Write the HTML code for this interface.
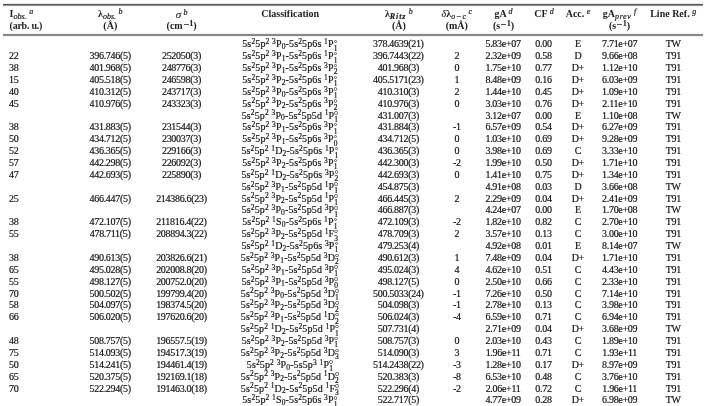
<!DOCTYPE html>
<html><head><meta charset="utf-8"><style>
html,body{margin:0;padding:0;background:#fff;}
body{width:708px;height:406px;overflow:hidden;position:relative;will-change:transform;font-family:"Liberation Serif",serif;color:#111;font-size:10px;-webkit-text-stroke:0.18px #111;}
.r{position:absolute;left:0;width:708px;height:12px;}
.c{position:absolute;top:0;white-space:nowrap;text-align:center;width:160px;line-height:12px;}
.c0{text-align:left;width:auto;}
sup{font-size:75%;vertical-align:0;position:relative;top:-3.2px;line-height:0;}
sub{font-size:75%;vertical-align:0;position:relative;top:1.8px;line-height:0;}
.ss{display:inline-block;position:relative;width:3.8px;height:0;font-size:75%;}
.ss .o{position:absolute;left:0.2px;top:-7.4px;width:1.5px;height:1.5px;border:0.5px solid #555;border-radius:50%;}
.ss .l{position:absolute;left:0;top:1.4px;line-height:0;}
.rule{position:absolute;left:3px;width:700px;}
.h{-webkit-text-stroke:0;color:#222;position:absolute;white-space:nowrap;text-align:center;width:160px;font-weight:bold;line-height:12px;}
.h sup,.h sub{font-weight:normal;font-size:80%;-webkit-text-stroke:0.2px #222;}
.nw{font-weight:normal;-webkit-text-stroke:0.1px #222;}
.h sup.m1{font-weight:bold;top:-2.8px;font-size:74%;}
.mb{display:inline-block;width:5.4px;height:0.8px;background:#555;vertical-align:0;position:relative;top:-1.6px;margin:0 0.6px 0 0.9px;}
</style></head><body>

<div class="rule" style="top:3px;height:1px;background:#e8e8e8"></div>
<div class="rule" style="top:4px;height:1px;background:#585858"></div>
<div class="rule" style="top:5px;height:1px;background:#939393"></div>
<div class="rule" style="top:6px;height:1px;background:#f6f6f6"></div>
<div class="rule" style="top:33px;height:1px;background:#f2f2f2"></div>
<div class="rule" style="top:34px;height:1px;background:#878787"></div>
<div class="rule" style="top:35px;height:1px;background:#878787"></div>
<div class="rule" style="top:36px;height:1px;background:#f2f2f2"></div>
<div class="h" style="left:9.6px;top:8px;text-align:left;width:auto">I<sub><i>obs.</i></sub> <sup><i>a</i></sup></div>
<div class="h" style="left:9.6px;top:19.8px;text-align:left;width:auto"><span style="letter-spacing:-0.25px">(arb. u.)</span></div>
<div class="h" style="left:30.30px;top:8px">&lambda;<sub><i>obs.</i></sub> <sup><i>b</i></sup></div>
<div class="h" style="left:30.30px;top:19.8px">(&Aring;)</div>
<div class="h" style="left:101.60px;top:8px"><i class="nw" style="font-size:11px">&sigma;</i> <sup><i>b</i></sup></div>
<div class="h" style="left:101.60px;top:19.8px">(cm<sup class="m1"><span class="mb"></span>1</sup>)</div>
<div class="h" style="left:210.20px;top:8px">Classification</div>
<div class="h" style="left:318.90px;top:8px">&lambda;<sub style="font-weight:bold;letter-spacing:0.9px"><i>Ritz</i></sub> <sup><i>b</i></sup></div>
<div class="h" style="left:318.90px;top:19.8px">(&Aring;)</div>
<div class="h" style="left:376.80px;top:8px"><i class="nw">&delta;</i>&lambda;<sub><i>o</i><span style="margin:0 1.4px">&minus;</span><i>c</i></sub> <sup><i>c</i></sup></div>
<div class="h" style="left:376.80px;top:19.8px">(m&Aring;)</div>
<div class="h" style="left:423.50px;top:8px">gA <sup><i>d</i></sup></div>
<div class="h" style="left:423.50px;top:19.8px">(s<sup class="m1"><span class="mb"></span>1</sup>)</div>
<div class="h" style="left:464.00px;top:8px">CF <sup><i>d</i></sup></div>
<div class="h" style="left:498.00px;top:8px">Acc. <sup><i>e</i></sup></div>
<div class="h" style="left:539.50px;top:8px">gA<sub style="letter-spacing:0.6px"><i>prev</i></sub> <sup><i>f</i></sup></div>
<div class="h" style="left:539.50px;top:19.8px">(s<sup class="m1"><span class="mb"></span>1</sup>)</div>
<div class="h" style="left:593.20px;top:8px">Line Ref. <sup><i>g</i></sup></div>
<div class="r" style="top:38.30px"><div class="c c0" style="left:9.1px;letter-spacing:-0.3px"></div><div class="c" style="left:30.15px;letter-spacing:-0.3px"></div><div class="c" style="left:101.45px;letter-spacing:-0.3px"></div><div class="c" style="left:209.87px;letter-spacing:0.13px">5s<sup>2</sup>5p<sup>2</sup> <sup>3</sup>P<sub>0</sub>-5s<sup>2</sup>5p6s <sup>1</sup>P<span class="ss"><span class="o"></span><span class="l">1</span></span></div><div class="c" style="left:318.35px;letter-spacing:-0.3px">378.4639(21)</div><div class="c" style="left:376.85px;letter-spacing:-0.3px"></div><div class="c" style="left:423.05px;letter-spacing:-0.3px">5.83e+07</div><div class="c" style="left:463.45px;letter-spacing:-0.3px">0.00</div><div class="c" style="left:497.85px;letter-spacing:-0.3px">E</div><div class="c" style="left:539.65px;letter-spacing:-0.3px">7.71e+07</div><div class="c" style="left:593.25px;letter-spacing:-0.3px">TW</div></div>
<div class="r" style="top:50.17px"><div class="c c0" style="left:9.1px;letter-spacing:-0.3px">22</div><div class="c" style="left:30.15px;letter-spacing:-0.3px">396.746(5)</div><div class="c" style="left:101.45px;letter-spacing:-0.3px">252050(3)</div><div class="c" style="left:209.87px;letter-spacing:0.13px">5s<sup>2</sup>5p<sup>2</sup> <sup>3</sup>P<sub>1</sub>-5s<sup>2</sup>5p6s <sup>1</sup>P<span class="ss"><span class="o"></span><span class="l">1</span></span></div><div class="c" style="left:318.35px;letter-spacing:-0.3px">396.7443(22)</div><div class="c" style="left:376.85px;letter-spacing:-0.3px">2</div><div class="c" style="left:423.05px;letter-spacing:-0.3px">2.32e+09</div><div class="c" style="left:463.45px;letter-spacing:-0.3px">0.58</div><div class="c" style="left:497.85px;letter-spacing:-0.3px">D</div><div class="c" style="left:539.65px;letter-spacing:-0.3px">9.66e+08</div><div class="c" style="left:593.25px;letter-spacing:-0.3px">T91</div></div>
<div class="r" style="top:62.04px"><div class="c c0" style="left:9.1px;letter-spacing:-0.3px">38</div><div class="c" style="left:30.15px;letter-spacing:-0.3px">401.968(5)</div><div class="c" style="left:101.45px;letter-spacing:-0.3px">248776(3)</div><div class="c" style="left:209.87px;letter-spacing:0.13px">5s<sup>2</sup>5p<sup>2</sup> <sup>3</sup>P<sub>1</sub>-5s<sup>2</sup>5p6s <sup>3</sup>P<span class="ss"><span class="o"></span><span class="l">2</span></span></div><div class="c" style="left:318.35px;letter-spacing:-0.3px">401.968(3)</div><div class="c" style="left:376.85px;letter-spacing:-0.3px">0</div><div class="c" style="left:423.05px;letter-spacing:-0.3px">1.75e+10</div><div class="c" style="left:463.45px;letter-spacing:-0.3px">0.77</div><div class="c" style="left:497.85px;letter-spacing:-0.3px">D+</div><div class="c" style="left:539.65px;letter-spacing:-0.3px">1.12e+10</div><div class="c" style="left:593.25px;letter-spacing:-0.3px">T91</div></div>
<div class="r" style="top:73.91px"><div class="c c0" style="left:9.1px;letter-spacing:-0.3px">15</div><div class="c" style="left:30.15px;letter-spacing:-0.3px">405.518(5)</div><div class="c" style="left:101.45px;letter-spacing:-0.3px">246598(3)</div><div class="c" style="left:209.87px;letter-spacing:0.13px">5s<sup>2</sup>5p<sup>2</sup> <sup>3</sup>P<sub>2</sub>-5s<sup>2</sup>5p6s <sup>1</sup>P<span class="ss"><span class="o"></span><span class="l">1</span></span></div><div class="c" style="left:318.35px;letter-spacing:-0.3px">405.5171(23)</div><div class="c" style="left:376.85px;letter-spacing:-0.3px">1</div><div class="c" style="left:423.05px;letter-spacing:-0.3px">8.48e+09</div><div class="c" style="left:463.45px;letter-spacing:-0.3px">0.16</div><div class="c" style="left:497.85px;letter-spacing:-0.3px">D+</div><div class="c" style="left:539.65px;letter-spacing:-0.3px">6.03e+09</div><div class="c" style="left:593.25px;letter-spacing:-0.3px">T91</div></div>
<div class="r" style="top:85.78px"><div class="c c0" style="left:9.1px;letter-spacing:-0.3px">40</div><div class="c" style="left:30.15px;letter-spacing:-0.3px">410.312(5)</div><div class="c" style="left:101.45px;letter-spacing:-0.3px">243717(3)</div><div class="c" style="left:209.87px;letter-spacing:0.13px">5s<sup>2</sup>5p<sup>2</sup> <sup>3</sup>P<sub>0</sub>-5s<sup>2</sup>5p6s <sup>3</sup>P<span class="ss"><span class="o"></span><span class="l">1</span></span></div><div class="c" style="left:318.35px;letter-spacing:-0.3px">410.310(3)</div><div class="c" style="left:376.85px;letter-spacing:-0.3px">2</div><div class="c" style="left:423.05px;letter-spacing:-0.3px">1.44e+10</div><div class="c" style="left:463.45px;letter-spacing:-0.3px">0.45</div><div class="c" style="left:497.85px;letter-spacing:-0.3px">D+</div><div class="c" style="left:539.65px;letter-spacing:-0.3px">1.09e+10</div><div class="c" style="left:593.25px;letter-spacing:-0.3px">T91</div></div>
<div class="r" style="top:97.65px"><div class="c c0" style="left:9.1px;letter-spacing:-0.3px">45</div><div class="c" style="left:30.15px;letter-spacing:-0.3px">410.976(5)</div><div class="c" style="left:101.45px;letter-spacing:-0.3px">243323(3)</div><div class="c" style="left:209.87px;letter-spacing:0.13px">5s<sup>2</sup>5p<sup>2</sup> <sup>3</sup>P<sub>2</sub>-5s<sup>2</sup>5p6s <sup>3</sup>P<span class="ss"><span class="o"></span><span class="l">2</span></span></div><div class="c" style="left:318.35px;letter-spacing:-0.3px">410.976(3)</div><div class="c" style="left:376.85px;letter-spacing:-0.3px">0</div><div class="c" style="left:423.05px;letter-spacing:-0.3px">3.03e+10</div><div class="c" style="left:463.45px;letter-spacing:-0.3px">0.76</div><div class="c" style="left:497.85px;letter-spacing:-0.3px">D+</div><div class="c" style="left:539.65px;letter-spacing:-0.3px">2.11e+10</div><div class="c" style="left:593.25px;letter-spacing:-0.3px">T91</div></div>
<div class="r" style="top:109.52px"><div class="c c0" style="left:9.1px;letter-spacing:-0.3px"></div><div class="c" style="left:30.15px;letter-spacing:-0.3px"></div><div class="c" style="left:101.45px;letter-spacing:-0.3px"></div><div class="c" style="left:209.87px;letter-spacing:0.13px">5s<sup>2</sup>5p<sup>2</sup> <sup>3</sup>P<sub>0</sub>-5s<sup>2</sup>5p5d <sup>1</sup>P<span class="ss"><span class="o"></span><span class="l">1</span></span></div><div class="c" style="left:318.35px;letter-spacing:-0.3px">431.007(3)</div><div class="c" style="left:376.85px;letter-spacing:-0.3px"></div><div class="c" style="left:423.05px;letter-spacing:-0.3px">3.12e+07</div><div class="c" style="left:463.45px;letter-spacing:-0.3px">0.00</div><div class="c" style="left:497.85px;letter-spacing:-0.3px">E</div><div class="c" style="left:539.65px;letter-spacing:-0.3px">1.10e+08</div><div class="c" style="left:593.25px;letter-spacing:-0.3px">TW</div></div>
<div class="r" style="top:121.39px"><div class="c c0" style="left:9.1px;letter-spacing:-0.3px">38</div><div class="c" style="left:30.15px;letter-spacing:-0.3px">431.883(5)</div><div class="c" style="left:101.45px;letter-spacing:-0.3px">231544(3)</div><div class="c" style="left:209.87px;letter-spacing:0.13px">5s<sup>2</sup>5p<sup>2</sup> <sup>3</sup>P<sub>1</sub>-5s<sup>2</sup>5p6s <sup>3</sup>P<span class="ss"><span class="o"></span><span class="l">1</span></span></div><div class="c" style="left:318.35px;letter-spacing:-0.3px">431.884(3)</div><div class="c" style="left:376.85px;letter-spacing:-0.3px">-1</div><div class="c" style="left:423.05px;letter-spacing:-0.3px">6.57e+09</div><div class="c" style="left:463.45px;letter-spacing:-0.3px">0.54</div><div class="c" style="left:497.85px;letter-spacing:-0.3px">D+</div><div class="c" style="left:539.65px;letter-spacing:-0.3px">6.27e+09</div><div class="c" style="left:593.25px;letter-spacing:-0.3px">T91</div></div>
<div class="r" style="top:133.26px"><div class="c c0" style="left:9.1px;letter-spacing:-0.3px">50</div><div class="c" style="left:30.15px;letter-spacing:-0.3px">434.712(5)</div><div class="c" style="left:101.45px;letter-spacing:-0.3px">230037(3)</div><div class="c" style="left:209.87px;letter-spacing:0.13px">5s<sup>2</sup>5p<sup>2</sup> <sup>3</sup>P<sub>1</sub>-5s<sup>2</sup>5p6s <sup>3</sup>P<span class="ss"><span class="o"></span><span class="l">0</span></span></div><div class="c" style="left:318.35px;letter-spacing:-0.3px">434.712(5)</div><div class="c" style="left:376.85px;letter-spacing:-0.3px">0</div><div class="c" style="left:423.05px;letter-spacing:-0.3px">1.03e+10</div><div class="c" style="left:463.45px;letter-spacing:-0.3px">0.69</div><div class="c" style="left:497.85px;letter-spacing:-0.3px">D+</div><div class="c" style="left:539.65px;letter-spacing:-0.3px">9.28e+09</div><div class="c" style="left:593.25px;letter-spacing:-0.3px">T91</div></div>
<div class="r" style="top:145.13px"><div class="c c0" style="left:9.1px;letter-spacing:-0.3px">52</div><div class="c" style="left:30.15px;letter-spacing:-0.3px">436.365(5)</div><div class="c" style="left:101.45px;letter-spacing:-0.3px">229166(3)</div><div class="c" style="left:209.87px;letter-spacing:0.13px">5s<sup>2</sup>5p<sup>2</sup> <sup>1</sup>D<sub>2</sub>-5s<sup>2</sup>5p6s <sup>1</sup>P<span class="ss"><span class="o"></span><span class="l">1</span></span></div><div class="c" style="left:318.35px;letter-spacing:-0.3px">436.365(3)</div><div class="c" style="left:376.85px;letter-spacing:-0.3px">0</div><div class="c" style="left:423.05px;letter-spacing:-0.3px">3.98e+10</div><div class="c" style="left:463.45px;letter-spacing:-0.3px">0.69</div><div class="c" style="left:497.85px;letter-spacing:-0.3px">C</div><div class="c" style="left:539.65px;letter-spacing:-0.3px">3.33e+10</div><div class="c" style="left:593.25px;letter-spacing:-0.3px">T91</div></div>
<div class="r" style="top:157.00px"><div class="c c0" style="left:9.1px;letter-spacing:-0.3px">57</div><div class="c" style="left:30.15px;letter-spacing:-0.3px">442.298(5)</div><div class="c" style="left:101.45px;letter-spacing:-0.3px">226092(3)</div><div class="c" style="left:209.87px;letter-spacing:0.13px">5s<sup>2</sup>5p<sup>2</sup> <sup>3</sup>P<sub>2</sub>-5s<sup>2</sup>5p6s <sup>3</sup>P<span class="ss"><span class="o"></span><span class="l">1</span></span></div><div class="c" style="left:318.35px;letter-spacing:-0.3px">442.300(3)</div><div class="c" style="left:376.85px;letter-spacing:-0.3px">-2</div><div class="c" style="left:423.05px;letter-spacing:-0.3px">1.99e+10</div><div class="c" style="left:463.45px;letter-spacing:-0.3px">0.50</div><div class="c" style="left:497.85px;letter-spacing:-0.3px">D+</div><div class="c" style="left:539.65px;letter-spacing:-0.3px">1.71e+10</div><div class="c" style="left:593.25px;letter-spacing:-0.3px">T91</div></div>
<div class="r" style="top:168.87px"><div class="c c0" style="left:9.1px;letter-spacing:-0.3px">47</div><div class="c" style="left:30.15px;letter-spacing:-0.3px">442.693(5)</div><div class="c" style="left:101.45px;letter-spacing:-0.3px">225890(3)</div><div class="c" style="left:209.87px;letter-spacing:0.13px">5s<sup>2</sup>5p<sup>2</sup> <sup>1</sup>D<sub>2</sub>-5s<sup>2</sup>5p6s <sup>3</sup>P<span class="ss"><span class="o"></span><span class="l">2</span></span></div><div class="c" style="left:318.35px;letter-spacing:-0.3px">442.693(3)</div><div class="c" style="left:376.85px;letter-spacing:-0.3px">0</div><div class="c" style="left:423.05px;letter-spacing:-0.3px">1.41e+10</div><div class="c" style="left:463.45px;letter-spacing:-0.3px">0.75</div><div class="c" style="left:497.85px;letter-spacing:-0.3px">D+</div><div class="c" style="left:539.65px;letter-spacing:-0.3px">1.34e+10</div><div class="c" style="left:593.25px;letter-spacing:-0.3px">T91</div></div>
<div class="r" style="top:180.74px"><div class="c c0" style="left:9.1px;letter-spacing:-0.3px"></div><div class="c" style="left:30.15px;letter-spacing:-0.3px"></div><div class="c" style="left:101.45px;letter-spacing:-0.3px"></div><div class="c" style="left:209.87px;letter-spacing:0.13px">5s<sup>2</sup>5p<sup>2</sup> <sup>3</sup>P<sub>1</sub>-5s<sup>2</sup>5p5d <sup>1</sup>P<span class="ss"><span class="o"></span><span class="l">1</span></span></div><div class="c" style="left:318.35px;letter-spacing:-0.3px">454.875(3)</div><div class="c" style="left:376.85px;letter-spacing:-0.3px"></div><div class="c" style="left:423.05px;letter-spacing:-0.3px">4.91e+08</div><div class="c" style="left:463.45px;letter-spacing:-0.3px">0.03</div><div class="c" style="left:497.85px;letter-spacing:-0.3px">D</div><div class="c" style="left:539.65px;letter-spacing:-0.3px">3.66e+08</div><div class="c" style="left:593.25px;letter-spacing:-0.3px">TW</div></div>
<div class="r" style="top:192.61px"><div class="c c0" style="left:9.1px;letter-spacing:-0.3px">25</div><div class="c" style="left:30.15px;letter-spacing:-0.3px">466.447(5)</div><div class="c" style="left:101.45px;letter-spacing:-0.3px">214386.6(23)</div><div class="c" style="left:209.87px;letter-spacing:0.13px">5s<sup>2</sup>5p<sup>2</sup> <sup>3</sup>P<sub>2</sub>-5s<sup>2</sup>5p5d <sup>1</sup>P<span class="ss"><span class="o"></span><span class="l">1</span></span></div><div class="c" style="left:318.35px;letter-spacing:-0.3px">466.445(3)</div><div class="c" style="left:376.85px;letter-spacing:-0.3px">2</div><div class="c" style="left:423.05px;letter-spacing:-0.3px">2.29e+09</div><div class="c" style="left:463.45px;letter-spacing:-0.3px">0.04</div><div class="c" style="left:497.85px;letter-spacing:-0.3px">D+</div><div class="c" style="left:539.65px;letter-spacing:-0.3px">2.41e+09</div><div class="c" style="left:593.25px;letter-spacing:-0.3px">T91</div></div>
<div class="r" style="top:204.48px"><div class="c c0" style="left:9.1px;letter-spacing:-0.3px"></div><div class="c" style="left:30.15px;letter-spacing:-0.3px"></div><div class="c" style="left:101.45px;letter-spacing:-0.3px"></div><div class="c" style="left:209.87px;letter-spacing:0.13px">5s<sup>2</sup>5p<sup>2</sup> <sup>3</sup>P<sub>0</sub>-5s<sup>2</sup>5p5d <sup>3</sup>P<span class="ss"><span class="o"></span><span class="l">1</span></span></div><div class="c" style="left:318.35px;letter-spacing:-0.3px">466.887(3)</div><div class="c" style="left:376.85px;letter-spacing:-0.3px"></div><div class="c" style="left:423.05px;letter-spacing:-0.3px">4.24e+07</div><div class="c" style="left:463.45px;letter-spacing:-0.3px">0.00</div><div class="c" style="left:497.85px;letter-spacing:-0.3px">E</div><div class="c" style="left:539.65px;letter-spacing:-0.3px">1.70e+08</div><div class="c" style="left:593.25px;letter-spacing:-0.3px">TW</div></div>
<div class="r" style="top:216.35px"><div class="c c0" style="left:9.1px;letter-spacing:-0.3px">38</div><div class="c" style="left:30.15px;letter-spacing:-0.3px">472.107(5)</div><div class="c" style="left:101.45px;letter-spacing:-0.3px">211816.4(22)</div><div class="c" style="left:209.87px;letter-spacing:0.13px">5s<sup>2</sup>5p<sup>2</sup> <sup>1</sup>S<sub>0</sub>-5s<sup>2</sup>5p6s <sup>1</sup>P<span class="ss"><span class="o"></span><span class="l">1</span></span></div><div class="c" style="left:318.35px;letter-spacing:-0.3px">472.109(3)</div><div class="c" style="left:376.85px;letter-spacing:-0.3px">-2</div><div class="c" style="left:423.05px;letter-spacing:-0.3px">1.82e+10</div><div class="c" style="left:463.45px;letter-spacing:-0.3px">0.82</div><div class="c" style="left:497.85px;letter-spacing:-0.3px">C</div><div class="c" style="left:539.65px;letter-spacing:-0.3px">2.70e+10</div><div class="c" style="left:593.25px;letter-spacing:-0.3px">T91</div></div>
<div class="r" style="top:228.22px"><div class="c c0" style="left:9.1px;letter-spacing:-0.3px">55</div><div class="c" style="left:30.15px;letter-spacing:-0.3px">478.711(5)</div><div class="c" style="left:101.45px;letter-spacing:-0.3px">208894.3(22)</div><div class="c" style="left:209.87px;letter-spacing:0.13px">5s<sup>2</sup>5p<sup>2</sup> <sup>3</sup>P<sub>2</sub>-5s<sup>2</sup>5p5d <sup>1</sup>F<span class="ss"><span class="o"></span><span class="l">3</span></span></div><div class="c" style="left:318.35px;letter-spacing:-0.3px">478.709(3)</div><div class="c" style="left:376.85px;letter-spacing:-0.3px">2</div><div class="c" style="left:423.05px;letter-spacing:-0.3px">3.57e+10</div><div class="c" style="left:463.45px;letter-spacing:-0.3px">0.13</div><div class="c" style="left:497.85px;letter-spacing:-0.3px">C</div><div class="c" style="left:539.65px;letter-spacing:-0.3px">3.00e+10</div><div class="c" style="left:593.25px;letter-spacing:-0.3px">T91</div></div>
<div class="r" style="top:240.09px"><div class="c c0" style="left:9.1px;letter-spacing:-0.3px"></div><div class="c" style="left:30.15px;letter-spacing:-0.3px"></div><div class="c" style="left:101.45px;letter-spacing:-0.3px"></div><div class="c" style="left:209.87px;letter-spacing:0.13px">5s<sup>2</sup>5p<sup>2</sup> <sup>1</sup>D<sub>2</sub>-5s<sup>2</sup>5p6s <sup>3</sup>P<span class="ss"><span class="o"></span><span class="l">1</span></span></div><div class="c" style="left:318.35px;letter-spacing:-0.3px">479.253(4)</div><div class="c" style="left:376.85px;letter-spacing:-0.3px"></div><div class="c" style="left:423.05px;letter-spacing:-0.3px">4.92e+08</div><div class="c" style="left:463.45px;letter-spacing:-0.3px">0.01</div><div class="c" style="left:497.85px;letter-spacing:-0.3px">E</div><div class="c" style="left:539.65px;letter-spacing:-0.3px">8.14e+07</div><div class="c" style="left:593.25px;letter-spacing:-0.3px">TW</div></div>
<div class="r" style="top:251.96px"><div class="c c0" style="left:9.1px;letter-spacing:-0.3px">38</div><div class="c" style="left:30.15px;letter-spacing:-0.3px">490.613(5)</div><div class="c" style="left:101.45px;letter-spacing:-0.3px">203826.6(21)</div><div class="c" style="left:209.87px;letter-spacing:0.13px">5s<sup>2</sup>5p<sup>2</sup> <sup>3</sup>P<sub>1</sub>-5s<sup>2</sup>5p5d <sup>3</sup>D<span class="ss"><span class="o"></span><span class="l">2</span></span></div><div class="c" style="left:318.35px;letter-spacing:-0.3px">490.612(3)</div><div class="c" style="left:376.85px;letter-spacing:-0.3px">1</div><div class="c" style="left:423.05px;letter-spacing:-0.3px">7.48e+09</div><div class="c" style="left:463.45px;letter-spacing:-0.3px">0.04</div><div class="c" style="left:497.85px;letter-spacing:-0.3px">D+</div><div class="c" style="left:539.65px;letter-spacing:-0.3px">1.71e+10</div><div class="c" style="left:593.25px;letter-spacing:-0.3px">T91</div></div>
<div class="r" style="top:263.83px"><div class="c c0" style="left:9.1px;letter-spacing:-0.3px">65</div><div class="c" style="left:30.15px;letter-spacing:-0.3px">495.028(5)</div><div class="c" style="left:101.45px;letter-spacing:-0.3px">202008.8(20)</div><div class="c" style="left:209.87px;letter-spacing:0.13px">5s<sup>2</sup>5p<sup>2</sup> <sup>3</sup>P<sub>1</sub>-5s<sup>2</sup>5p5d <sup>3</sup>P<span class="ss"><span class="o"></span><span class="l">1</span></span></div><div class="c" style="left:318.35px;letter-spacing:-0.3px">495.024(3)</div><div class="c" style="left:376.85px;letter-spacing:-0.3px">4</div><div class="c" style="left:423.05px;letter-spacing:-0.3px">4.62e+10</div><div class="c" style="left:463.45px;letter-spacing:-0.3px">0.51</div><div class="c" style="left:497.85px;letter-spacing:-0.3px">C</div><div class="c" style="left:539.65px;letter-spacing:-0.3px">4.43e+10</div><div class="c" style="left:593.25px;letter-spacing:-0.3px">T91</div></div>
<div class="r" style="top:275.70px"><div class="c c0" style="left:9.1px;letter-spacing:-0.3px">55</div><div class="c" style="left:30.15px;letter-spacing:-0.3px">498.127(5)</div><div class="c" style="left:101.45px;letter-spacing:-0.3px">200752.0(20)</div><div class="c" style="left:209.87px;letter-spacing:0.13px">5s<sup>2</sup>5p<sup>2</sup> <sup>3</sup>P<sub>1</sub>-5s<sup>2</sup>5p5d <sup>3</sup>P<span class="ss"><span class="o"></span><span class="l">0</span></span></div><div class="c" style="left:318.35px;letter-spacing:-0.3px">498.127(5)</div><div class="c" style="left:376.85px;letter-spacing:-0.3px">0</div><div class="c" style="left:423.05px;letter-spacing:-0.3px">2.50e+10</div><div class="c" style="left:463.45px;letter-spacing:-0.3px">0.66</div><div class="c" style="left:497.85px;letter-spacing:-0.3px">C</div><div class="c" style="left:539.65px;letter-spacing:-0.3px">2.33e+10</div><div class="c" style="left:593.25px;letter-spacing:-0.3px">T91</div></div>
<div class="r" style="top:287.57px"><div class="c c0" style="left:9.1px;letter-spacing:-0.3px">70</div><div class="c" style="left:30.15px;letter-spacing:-0.3px">500.502(5)</div><div class="c" style="left:101.45px;letter-spacing:-0.3px">199799.4(20)</div><div class="c" style="left:209.87px;letter-spacing:0.13px">5s<sup>2</sup>5p<sup>2</sup> <sup>3</sup>P<sub>0</sub>-5s<sup>2</sup>5p5d <sup>3</sup>D<span class="ss"><span class="o"></span><span class="l">1</span></span></div><div class="c" style="left:318.35px;letter-spacing:-0.3px">500.5033(24)</div><div class="c" style="left:376.85px;letter-spacing:-0.3px">-1</div><div class="c" style="left:423.05px;letter-spacing:-0.3px">7.26e+10</div><div class="c" style="left:463.45px;letter-spacing:-0.3px">0.50</div><div class="c" style="left:497.85px;letter-spacing:-0.3px">C</div><div class="c" style="left:539.65px;letter-spacing:-0.3px">7.14e+10</div><div class="c" style="left:593.25px;letter-spacing:-0.3px">T91</div></div>
<div class="r" style="top:299.44px"><div class="c c0" style="left:9.1px;letter-spacing:-0.3px">58</div><div class="c" style="left:30.15px;letter-spacing:-0.3px">504.097(5)</div><div class="c" style="left:101.45px;letter-spacing:-0.3px">198374.5(20)</div><div class="c" style="left:209.87px;letter-spacing:0.13px">5s<sup>2</sup>5p<sup>2</sup> <sup>3</sup>P<sub>2</sub>-5s<sup>2</sup>5p5d <sup>3</sup>D<span class="ss"><span class="o"></span><span class="l">2</span></span></div><div class="c" style="left:318.35px;letter-spacing:-0.3px">504.098(3)</div><div class="c" style="left:376.85px;letter-spacing:-0.3px">-1</div><div class="c" style="left:423.05px;letter-spacing:-0.3px">2.78e+10</div><div class="c" style="left:463.45px;letter-spacing:-0.3px">0.13</div><div class="c" style="left:497.85px;letter-spacing:-0.3px">C</div><div class="c" style="left:539.65px;letter-spacing:-0.3px">3.98e+10</div><div class="c" style="left:593.25px;letter-spacing:-0.3px">T91</div></div>
<div class="r" style="top:311.31px"><div class="c c0" style="left:9.1px;letter-spacing:-0.3px">66</div><div class="c" style="left:30.15px;letter-spacing:-0.3px">506.020(5)</div><div class="c" style="left:101.45px;letter-spacing:-0.3px">197620.6(20)</div><div class="c" style="left:209.87px;letter-spacing:0.13px">5s<sup>2</sup>5p<sup>2</sup> <sup>3</sup>P<sub>1</sub>-5s<sup>2</sup>5p5d <sup>1</sup>D<span class="ss"><span class="o"></span><span class="l">2</span></span></div><div class="c" style="left:318.35px;letter-spacing:-0.3px">506.024(3)</div><div class="c" style="left:376.85px;letter-spacing:-0.3px">-4</div><div class="c" style="left:423.05px;letter-spacing:-0.3px">6.59e+10</div><div class="c" style="left:463.45px;letter-spacing:-0.3px">0.71</div><div class="c" style="left:497.85px;letter-spacing:-0.3px">C</div><div class="c" style="left:539.65px;letter-spacing:-0.3px">6.94e+10</div><div class="c" style="left:593.25px;letter-spacing:-0.3px">T91</div></div>
<div class="r" style="top:323.18px"><div class="c c0" style="left:9.1px;letter-spacing:-0.3px"></div><div class="c" style="left:30.15px;letter-spacing:-0.3px"></div><div class="c" style="left:101.45px;letter-spacing:-0.3px"></div><div class="c" style="left:209.87px;letter-spacing:0.13px">5s<sup>2</sup>5p<sup>2</sup> <sup>1</sup>D<sub>2</sub>-5s<sup>2</sup>5p5d <sup>1</sup>P<span class="ss"><span class="o"></span><span class="l">1</span></span></div><div class="c" style="left:318.35px;letter-spacing:-0.3px">507.731(4)</div><div class="c" style="left:376.85px;letter-spacing:-0.3px"></div><div class="c" style="left:423.05px;letter-spacing:-0.3px">2.71e+09</div><div class="c" style="left:463.45px;letter-spacing:-0.3px">0.04</div><div class="c" style="left:497.85px;letter-spacing:-0.3px">D+</div><div class="c" style="left:539.65px;letter-spacing:-0.3px">3.68e+09</div><div class="c" style="left:593.25px;letter-spacing:-0.3px">TW</div></div>
<div class="r" style="top:335.05px"><div class="c c0" style="left:9.1px;letter-spacing:-0.3px">48</div><div class="c" style="left:30.15px;letter-spacing:-0.3px">508.757(5)</div><div class="c" style="left:101.45px;letter-spacing:-0.3px">196557.5(19)</div><div class="c" style="left:209.87px;letter-spacing:0.13px">5s<sup>2</sup>5p<sup>2</sup> <sup>3</sup>P<sub>2</sub>-5s<sup>2</sup>5p5d <sup>3</sup>P<span class="ss"><span class="o"></span><span class="l">1</span></span></div><div class="c" style="left:318.35px;letter-spacing:-0.3px">508.757(3)</div><div class="c" style="left:376.85px;letter-spacing:-0.3px">0</div><div class="c" style="left:423.05px;letter-spacing:-0.3px">2.03e+10</div><div class="c" style="left:463.45px;letter-spacing:-0.3px">0.43</div><div class="c" style="left:497.85px;letter-spacing:-0.3px">C</div><div class="c" style="left:539.65px;letter-spacing:-0.3px">1.89e+10</div><div class="c" style="left:593.25px;letter-spacing:-0.3px">T91</div></div>
<div class="r" style="top:346.92px"><div class="c c0" style="left:9.1px;letter-spacing:-0.3px">75</div><div class="c" style="left:30.15px;letter-spacing:-0.3px">514.093(5)</div><div class="c" style="left:101.45px;letter-spacing:-0.3px">194517.3(19)</div><div class="c" style="left:209.87px;letter-spacing:0.13px">5s<sup>2</sup>5p<sup>2</sup> <sup>3</sup>P<sub>2</sub>-5s<sup>2</sup>5p5d <sup>3</sup>D<span class="ss"><span class="o"></span><span class="l">3</span></span></div><div class="c" style="left:318.35px;letter-spacing:-0.3px">514.090(3)</div><div class="c" style="left:376.85px;letter-spacing:-0.3px">3</div><div class="c" style="left:423.05px;letter-spacing:-0.3px">1.96e+11</div><div class="c" style="left:463.45px;letter-spacing:-0.3px">0.71</div><div class="c" style="left:497.85px;letter-spacing:-0.3px">C</div><div class="c" style="left:539.65px;letter-spacing:-0.3px">1.93e+11</div><div class="c" style="left:593.25px;letter-spacing:-0.3px">T91</div></div>
<div class="r" style="top:358.79px"><div class="c c0" style="left:9.1px;letter-spacing:-0.3px">50</div><div class="c" style="left:30.15px;letter-spacing:-0.3px">514.241(5)</div><div class="c" style="left:101.45px;letter-spacing:-0.3px">194461.4(19)</div><div class="c" style="left:209.87px;letter-spacing:0.13px">5s<sup>2</sup>5p<sup>2</sup> <sup>3</sup>P<sub>0</sub>-5s5p<sup>3</sup> <sup>1</sup>P<span class="ss"><span class="o"></span><span class="l">1</span></span></div><div class="c" style="left:318.35px;letter-spacing:-0.3px">514.2438(22)</div><div class="c" style="left:376.85px;letter-spacing:-0.3px">-3</div><div class="c" style="left:423.05px;letter-spacing:-0.3px">1.28e+10</div><div class="c" style="left:463.45px;letter-spacing:-0.3px">0.17</div><div class="c" style="left:497.85px;letter-spacing:-0.3px">D+</div><div class="c" style="left:539.65px;letter-spacing:-0.3px">8.97e+09</div><div class="c" style="left:593.25px;letter-spacing:-0.3px">T91</div></div>
<div class="r" style="top:370.66px"><div class="c c0" style="left:9.1px;letter-spacing:-0.3px">65</div><div class="c" style="left:30.15px;letter-spacing:-0.3px">520.375(5)</div><div class="c" style="left:101.45px;letter-spacing:-0.3px">192169.1(18)</div><div class="c" style="left:209.87px;letter-spacing:0.13px">5s<sup>2</sup>5p<sup>2</sup> <sup>3</sup>P<sub>2</sub>-5s<sup>2</sup>5p5d <sup>1</sup>D<span class="ss"><span class="o"></span><span class="l">2</span></span></div><div class="c" style="left:318.35px;letter-spacing:-0.3px">520.383(3)</div><div class="c" style="left:376.85px;letter-spacing:-0.3px">-8</div><div class="c" style="left:423.05px;letter-spacing:-0.3px">6.53e+10</div><div class="c" style="left:463.45px;letter-spacing:-0.3px">0.48</div><div class="c" style="left:497.85px;letter-spacing:-0.3px">C</div><div class="c" style="left:539.65px;letter-spacing:-0.3px">3.76e+10</div><div class="c" style="left:593.25px;letter-spacing:-0.3px">T91</div></div>
<div class="r" style="top:382.53px"><div class="c c0" style="left:9.1px;letter-spacing:-0.3px">70</div><div class="c" style="left:30.15px;letter-spacing:-0.3px">522.294(5)</div><div class="c" style="left:101.45px;letter-spacing:-0.3px">191463.0(18)</div><div class="c" style="left:209.87px;letter-spacing:0.13px">5s<sup>2</sup>5p<sup>2</sup> <sup>1</sup>D<sub>2</sub>-5s<sup>2</sup>5p5d <sup>1</sup>F<span class="ss"><span class="o"></span><span class="l">3</span></span></div><div class="c" style="left:318.35px;letter-spacing:-0.3px">522.296(4)</div><div class="c" style="left:376.85px;letter-spacing:-0.3px">-2</div><div class="c" style="left:423.05px;letter-spacing:-0.3px">2.06e+11</div><div class="c" style="left:463.45px;letter-spacing:-0.3px">0.72</div><div class="c" style="left:497.85px;letter-spacing:-0.3px">C</div><div class="c" style="left:539.65px;letter-spacing:-0.3px">1.96e+11</div><div class="c" style="left:593.25px;letter-spacing:-0.3px">T91</div></div>
<div class="r" style="top:394.40px"><div class="c c0" style="left:9.1px;letter-spacing:-0.3px"></div><div class="c" style="left:30.15px;letter-spacing:-0.3px"></div><div class="c" style="left:101.45px;letter-spacing:-0.3px"></div><div class="c" style="left:209.87px;letter-spacing:0.13px">5s<sup>2</sup>5p<sup>2</sup> <sup>1</sup>S<sub>0</sub>-5s<sup>2</sup>5p6s <sup>3</sup>P<span class="ss"><span class="o"></span><span class="l">1</span></span></div><div class="c" style="left:318.35px;letter-spacing:-0.3px">522.717(5)</div><div class="c" style="left:376.85px;letter-spacing:-0.3px"></div><div class="c" style="left:423.05px;letter-spacing:-0.3px">4.77e+09</div><div class="c" style="left:463.45px;letter-spacing:-0.3px">0.28</div><div class="c" style="left:497.85px;letter-spacing:-0.3px">D+</div><div class="c" style="left:539.65px;letter-spacing:-0.3px">6.98e+09</div><div class="c" style="left:593.25px;letter-spacing:-0.3px">TW</div></div>
</body></html>
